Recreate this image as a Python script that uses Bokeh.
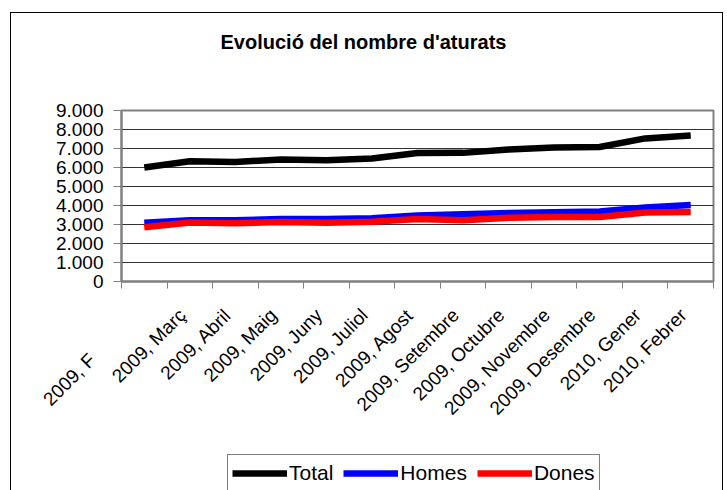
import math
from bokeh.plotting import figure
from bokeh.layouts import column
from bokeh.models import Range1d, FixedTicker, Legend, LegendItem, Title
from bokeh.embed import file_html
from bokeh.resources import INLINE

# ---- data ----
months = ["2009, Febrer", "2009, Març", "2009, Abril", "2009, Maig", "2009, Juny",
          "2009, Juliol", "2009, Agost", "2009, Setembre", "2009, Octubre",
          "2009, Novembre", "2009, Desembre", "2010, Gener", "2010, Febrer"]
# tick labels as shown (the first one is truncated in the original)
month_labels = ["2009, F" + "\u00a0" * 12] + months[1:]
total = [6000, 6330, 6290, 6420, 6380, 6470, 6760, 6770, 6950, 7050, 7080, 7530, 7680]
homes = [3090, 3230, 3220, 3290, 3290, 3330, 3470, 3540, 3600, 3650, 3680, 3900, 4020]
dones = [2860, 3100, 3070, 3130, 3090, 3140, 3290, 3230, 3350, 3400, 3400, 3630, 3660]
y_ticks = [0, 1000, 2000, 3000, 4000, 5000, 6000, 7000, 8000, 9000]
y_tick_labels = ["0", "1.000", "2.000", "3.000", "4.000", "5.000", "6.000", "7.000", "8.000", "9.000"]
series_names = ["Total", "Homes", "Dones"]
series_colors = ["black", "#0000ff", "#ff0000"]
title_text = "Evolució del nombre d'aturats"

FONT = "Liberation Sans"
LW = 6.5
n = len(months)
xs = [i + 0.5 for i in range(n)]
series = [total, homes, dones]

p = figure(width=711, height=430,
           x_range=Range1d(0, n), y_range=Range1d(y_ticks[0], y_ticks[-1]),
           output_backend="svg", toolbar_location=None, margin=0,
           min_border_left=110, min_border_right=9, min_border_top=97, min_border_bottom=162)

p.background_fill_color = "white"
p.border_fill_color = "white"
p.outline_line_color = "#808080"
p.outline_line_width = 2

# spacer between frame and title (closest to the frame)
p.add_layout(Title(text="\u00a0", text_font_size="8px", standoff=47), "above")

# title
p.title.text = title_text
p.title.align = "left"
p.title.offset = 99
p.title.standoff = 0
p.title.text_font = FONT
p.title.text_font_size = "20px"
p.title.text_font_style = "bold"
p.title.text_color = "black"

# lines
for vals, col in zip(series, series_colors):
    p.line(xs, vals, line_color=col, line_width=LW)

# x axis
pad = "\u00a0\u00a0"
xa = p.xaxis[0]
xa.ticker = FixedTicker(ticks=xs, minor_ticks=list(range(n + 1)))
xa.major_label_overrides = {x: lab + pad for x, lab in zip(xs, month_labels)}
xa.major_label_orientation = math.pi / 4
xa.major_tick_line_color = None
xa.major_tick_out = 0
xa.major_tick_in = 0
xa.minor_tick_line_color = "#808080"
xa.minor_tick_out = 7
xa.minor_tick_in = 0
xa.minor_tick_line_width = 1
xa.axis_line_color = "#808080"
xa.axis_line_width = 2
xa.major_label_text_font = FONT
xa.major_label_text_font_size = "19px"
xa.major_label_text_color = "black"
xa.major_label_standoff = 16

# y axis
ya = p.yaxis[0]
ya.ticker = FixedTicker(ticks=y_ticks)
ya.major_label_overrides = {t: lab for t, lab in zip(y_ticks, y_tick_labels)}
ya.major_tick_out = 8
ya.major_tick_in = 0
ya.major_tick_line_color = "#808080"
ya.minor_tick_line_color = None
ya.axis_line_color = "#808080"
ya.axis_line_width = 2
ya.major_label_text_font = FONT
ya.major_label_text_font_size = "19px"
ya.major_label_text_color = "black"
ya.major_label_standoff = 10

p.xgrid.visible = False
p.ygrid.ticker = FixedTicker(ticks=y_ticks)
p.ygrid.grid_line_color = "#333333"
p.ygrid.grid_line_width = 1

# legend strip below the chart (its frame is aligned with the chart's frame)
p2 = figure(width=711, height=47, output_backend="svg", toolbar_location=None, margin=0,
            x_axis_type=None, y_axis_type=None, min_border=0,
            x_range=Range1d(0, n), y_range=Range1d(-y_ticks[-1], 0))
p2.outline_line_color = None
p2.background_fill_color = "white"
p2.border_fill_color = "white"
# same series, lying outside this strip's y range: only used for the legend swatches
swatches = [p2.line(xs, vals, line_color=col, line_width=LW) for vals, col in zip(series, series_colors)]

legend = Legend(items=[LegendItem(label=name, renderers=[r]) for name, r in zip(series_names, swatches)],
                orientation="horizontal", location=(106, -2),
                glyph_width=55, glyph_height=28, label_height=28, label_standoff=2,
                spacing=10, padding=4, margin=0,
                border_line_color="#808080", border_line_width=1, border_line_alpha=1,
                background_fill_color="white", background_fill_alpha=1,
                label_text_font=FONT, label_text_font_size="21px", label_text_color="black")
p2.add_layout(legend)

layout = column(p, p2, spacing=0, margin=(12, 0, 0, 10),
                styles={"border-top": "1px solid black", "border-left": "1px solid black",
                        "border-right": "1px solid black"})

open("out.html", "w").write(file_html(layout, INLINE))
